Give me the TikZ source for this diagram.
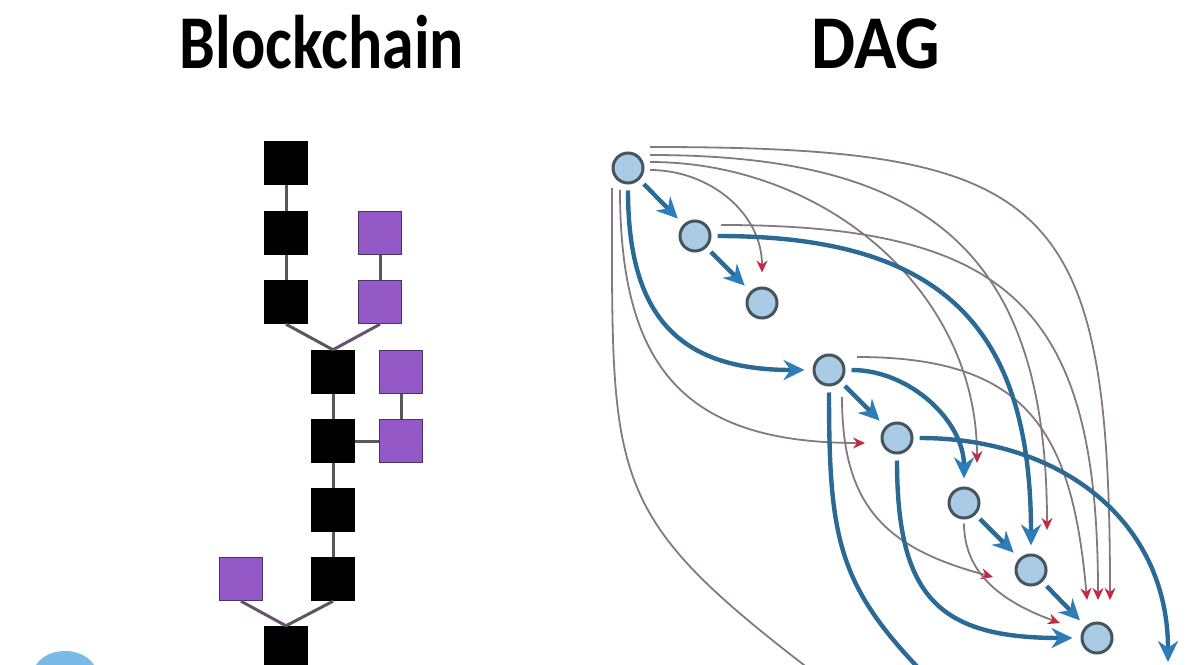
\documentclass[tikz,border=0pt]{standalone}
\usepackage{fontspec}
\usepackage{graphicx}
\setmainfont{Carlito}
\usetikzlibrary{arrows.meta}

\definecolor{chainlink}{HTML}{585858}
\definecolor{forklink}{HTML}{6A5072}
\definecolor{forkfill}{HTML}{9459C6}
\definecolor{forkline}{HTML}{4A3366}
\definecolor{txfill}{HTML}{A9CBE6}
\definecolor{txline}{HTML}{46555C}
\definecolor{refline}{HTML}{2A6A94}
\definecolor{refhead}{HTML}{2C7DBA}
\definecolor{weakline}{HTML}{867880}
\definecolor{weakhead}{HTML}{C42843}
\definecolor{logo}{HTML}{78BAE8}

\begin{document}
\begin{tikzpicture}[x=0.5pt,y=0.5pt,
    title/.style={font=\bfseries\fontsize{38}{40}\selectfont, anchor=base},
    block/.style={draw=black, fill=black, minimum size=21.5pt, inner sep=0pt, line width=0.7pt},
    fork/.style={block, draw=forkline, fill=forkfill},
    link/.style={draw=chainlink, line width=1.5pt},
    tx/.style={circle, draw=txline, fill=txfill, line width=1.5pt, minimum size=15pt, inner sep=0pt},
    ref/.style={draw=refline, line width=2.2pt, -{Stealth[length=10.5pt,width=10pt,color=refhead]},
      shorten >=4pt, shorten <=3pt},
    weak/.style={draw=weakline, line width=0.9pt, -{Stealth[length=6pt,width=5.5pt,color=weakhead]}}]
  \useasboundingbox (0,0) rectangle (1197,664);
  \clip (0,0) rectangle (1197,664);

  \node[title] (bctitle) at (322,595) {\scalebox{0.84}[1]{Blockchain}};
  \node[title] (dagtitle) at (876,595) {\scalebox{0.92}[1]{DAG}};

  % chain with its forks
  \node[block] (b1) at (286,501) {};
  \node[block] (b2) at (286,431) {};
  \node[block] (b3) at (286,362) {};
  \node[fork]  (f1) at (380,431) {};
  \node[fork]  (f2) at (380,362) {};
  \node[block] (b4) at (333,292) {};
  \node[block] (b5) at (333,223) {};
  \node[block] (b6) at (333,154) {};
  \node[block] (b7) at (333,85) {};
  \node[fork]  (f3) at (401,292) {};
  \node[fork]  (f4) at (401,223) {};
  \node[fork]  (f5) at (241,85) {};
  \node[block] (b8) at (286,16) {};
  \begin{scope}[link]
    \draw (b1) -- (b2);
    \draw (b2) -- (b3);
    \draw (f1) -- (f2);
    \draw (b3.south) -- (b4.north);
    \draw (b4) -- (b5);
    \draw (b5) -- (b6);
    \draw (b6) -- (b7);
    \draw (f3) -- (f4);
    \draw (b5) -- (f4);
    \draw (b7.south) -- (b8.north);
    \draw[forklink] (f2.south) -- (b4.north);
    \draw[forklink] (f5.south) -- (b8.north);
  \end{scope}

  \fill[logo] (65,-11) ellipse [x radius=16pt, y radius=12pt];

  % transactions
  \node[tx] (t1) at (628,496) {};
  \node[tx] (t2) at (695,428) {};
  \node[tx] (t3) at (762,361) {};
  \node[tx] (t4) at (829,294) {};
  \node[tx] (t5) at (897,226) {};
  \node[tx] (t6) at (964,161) {};
  \node[tx] (t7) at (1031,94) {};
  \node[tx] (t8) at (1097,26) {};
  \coordinate (tail1) at (950,-36);
  \coordinate (tail2) at (1168,-6);
  \coordinate (tail3) at (850,-36);

  \begin{scope}[weak]
    \draw ([shift={(11pt,10.5pt)}]t1.center) to[out=0,in=90,looseness=1.6] ([shift={(6.5pt,19pt)}]t8.center);
    \draw ([shift={(11pt,6.5pt)}]t1.center) to[out=0,in=90,looseness=1.3] ([shift={(8pt,20pt)}]t7.center);
    \draw ([shift={(11pt,3pt)}]t1.center) to[out=0,in=90] ([shift={(6.5pt,20pt)}]t6.center);
    \draw ([shift={(11pt,-1pt)}]t1.center) to[out=0,in=90] ([yshift=7pt]t3.north);
    \draw ([shift={(-4pt,-11pt)}]t1.center) to[out=-90,in=180,looseness=1.3] ([shift={(-16pt,-2.5pt)}]t5.center);
    \draw ([shift={(-8pt,-10pt)}]t1.center) to[out=-90,in=143,looseness=1.4] (tail3);
    \draw ([shift={(13pt,5.5pt)}]t2.center) to[out=0,in=90,looseness=1.4] ([shift={(0.5pt,19pt)}]t8.center);
    \draw ([shift={(14pt,6.5pt)}]t4.center) to[out=0,in=95,looseness=1.3] ([shift={(-5pt,19pt)}]t8.center);
    \draw ([shift={(6.5pt,-13.5pt)}]t4.center) to[out=-90,in=165,looseness=1.2] ([shift={(-19pt,-3.5pt)}]t7.center);
    \draw ([yshift=-2pt]t6.south) to[out=-90,in=160] ([shift={(-18.5pt,7.5pt)}]t8.center);
  \end{scope}

  \begin{scope}[ref]
    \draw (t1) -- (t2);
    \draw (t2) -- (t3);
    \draw (t1) to[out=-90,in=180,looseness=1.3] (t4);
    \draw (t2) to[out=0,in=90,looseness=1.3] (t7);
    \draw (t4) -- (t5);
    \draw (t4) to[out=0,in=90] (t6);
    \draw (t4) to[out=-90,in=135,looseness=1.2] (tail1);
    \draw (t5) to[out=-90,in=180,looseness=1.4] (t8);
    \draw (t5) to[out=0,in=90,looseness=1.1] (tail2);
    \draw (t6) -- (t7);
    \draw (t7) -- (t8);
  \end{scope}
\end{tikzpicture}
\end{document}
